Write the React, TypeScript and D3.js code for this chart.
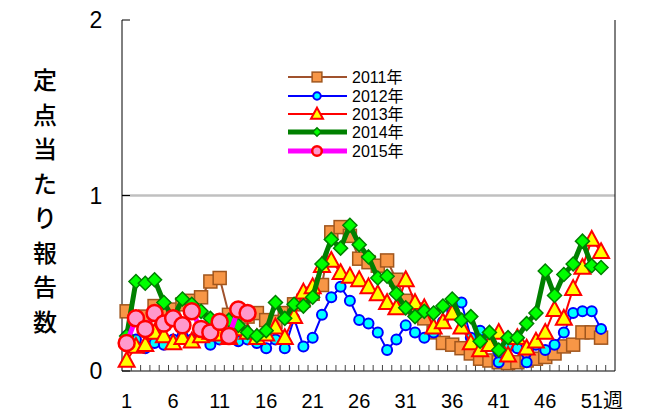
import React from "react";
import * as d3 from "d3";

const weeks: number[] = Array.from({ length: 52 }, (_, i) => i + 1);
const xTickLabels = [1, 6, 11, 16, 21, 26, 31, 36, 41, 46, 51];
const xUnit = "週";
const yTickValues = [0, 1, 2];
const yTitleChars = ["定", "点", "当", "た", "り", "報", "告", "数"];

const s2011 = [0.34, 0.30, 0.31, 0.37, 0.33, 0.35, 0.38, 0.40, 0.42, 0.51, 0.53, 0.32, 0.34, 0.31, 0.33, 0.29, 0.28, 0.33, 0.38, 0.40, 0.44, 0.49, 0.79, 0.82, 0.77, 0.64, 0.62, 0.60, 0.63, 0.52, 0.40, 0.35, 0.30, 0.22, 0.16, 0.15, 0.13, 0.10, 0.07, 0.06, 0.05, 0.045, 0.05, 0.06, 0.07, 0.08, 0.10, 0.14, 0.15, 0.22, 0.22, 0.19];
const s2012 = [0.20, 0.18, 0.13, 0.16, 0.15, 0.18, 0.20, 0.18, 0.20, 0.15, 0.18, 0.20, 0.17, 0.18, 0.16, 0.13, 0.18, 0.13, 0.30, 0.14, 0.19, 0.32, 0.42, 0.48, 0.40, 0.29, 0.27, 0.22, 0.12, 0.18, 0.26, 0.22, 0.19, 0.22, 0.28, 0.34, 0.39, 0.19, 0.23, 0.15, 0.05, 0.14, 0.13, 0.05, 0.15, 0.12, 0.15, 0.22, 0.33, 0.34, 0.34, 0.24];
const s2013 = [0.06, 0.14, 0.15, 0.22, 0.20, 0.16, 0.19, 0.17, 0.20, 0.22, 0.21, 0.19, 0.24, 0.22, 0.19, 0.21, 0.25, 0.19, 0.31, 0.45, 0.48, 0.60, 0.63, 0.56, 0.54, 0.52, 0.48, 0.44, 0.39, 0.36, 0.52, 0.39, 0.36, 0.25, 0.28, 0.33, 0.25, 0.16, 0.12, 0.15, 0.22, 0.09, 0.19, 0.13, 0.17, 0.22, 0.35, 0.30, 0.47, 0.59, 0.75, 0.68];
const s2014 = [0.20, 0.51, 0.50, 0.52, 0.39, 0.30, 0.41, 0.38, 0.34, 0.30, 0.28, 0.29, 0.26, 0.22, 0.20, 0.23, 0.39, 0.30, 0.38, 0.37, 0.42, 0.61, 0.75, 0.70, 0.83, 0.72, 0.65, 0.53, 0.54, 0.44, 0.36, 0.31, 0.34, 0.33, 0.37, 0.41, 0.29, 0.31, 0.17, 0.22, 0.12, 0.19, 0.19, 0.27, 0.33, 0.57, 0.43, 0.55, 0.61, 0.74, 0.60, 0.59];
const s2015 = [0.16, 0.30, 0.24, 0.33, 0.27, 0.30, 0.26, 0.34, 0.24, 0.22, 0.28, 0.20, 0.35, 0.33];

type Marker = "square" | "circle" | "triangle" | "diamond" | "bigcircle";
interface Series {
  name: string;
  values: number[];
  line: string;
  lineWidth: number;
  marker: Marker;
  fill: string;
  stroke: string;
}

const seriesList: Series[] = [
  { name: "2011年", values: s2011, line: "#a0522d", lineWidth: 2, marker: "square", fill: "#f79646", stroke: "#a0561e" },
  { name: "2012年", values: s2012, line: "#0000ff", lineWidth: 2, marker: "circle", fill: "#00ffff", stroke: "#0000ff" },
  { name: "2013年", values: s2013, line: "#ff0000", lineWidth: 2, marker: "triangle", fill: "#ffff00", stroke: "#ff0000" },
  { name: "2014年", values: s2014, line: "#008000", lineWidth: 5, marker: "diamond", fill: "#00ff00", stroke: "#008000" },
  { name: "2015年", values: s2015, line: "#ff00ff", lineWidth: 5, marker: "bigcircle", fill: "#ff99cc", stroke: "#ff0000" },
];

const W = 648;
const H = 412;
const left = 122;
const right = 615;
const top = 20;
const bottom = 371;

const x = d3.scaleLinear().domain([0.5, 53.5]).range([left, right]);
const y = d3.scaleLinear().domain([0, 2]).range([bottom, top]);

function MarkerShape({ m, cx, cy, fill, stroke, scale = 1 }: { m: Marker; cx: number; cy: number; fill: string; stroke: string; scale?: number }) {
  if (m === "square") {
    const s = 13 * scale;
    return <rect x={cx - s / 2} y={cy - s / 2} width={s} height={s} fill={fill} stroke={stroke} strokeWidth={1.5} />;
  }
  if (m === "circle") {
    return <circle cx={cx} cy={cy} r={5 * scale} fill={fill} stroke={stroke} strokeWidth={2} />;
  }
  if (m === "bigcircle") {
    return <circle cx={cx} cy={cy} r={8 * scale} fill={fill} stroke={stroke} strokeWidth={2.5} />;
  }
  if (m === "triangle") {
    const s = 8 * scale;
    const p = `M${cx},${cy - s * 1.05} L${cx + s},${cy + s * 0.8} L${cx - s},${cy + s * 0.8} Z`;
    return <path d={p} fill={fill} stroke={stroke} strokeWidth={2} strokeLinejoin="miter" />;
  }
  const s = 7 * scale;
  const p = `M${cx},${cy - s} L${cx + s},${cy} L${cx},${cy + s} L${cx - s},${cy} Z`;
  return <path d={p} fill={fill} stroke={stroke} strokeWidth={1.5} />;
}

export default function App() {
  const line = d3
    .line<number>()
    .x((_, i) => x(weeks[i]))
    .y((v) => y(v));

  const fontLatin = "'Liberation Sans', Arial, sans-serif";
  const fontCJK = "'Liberation Sans', 'Noto Sans CJK JP', sans-serif";

  const legendY = [77, 96, 114, 132, 151];
  const lastLabel = xTickLabels[xTickLabels.length - 1];

  return (
    <svg width={W} height={H} style={{ position: "absolute", left: 0, top: 0, background: "#fff" }}>
      {/* gridline at 1 */}
      <line x1={left} x2={right} y1={y(1)} y2={y(1)} stroke="#c0c0c0" strokeWidth={2.5} />
      {/* axes */}
      <line x1={left} x2={left} y1={top} y2={bottom} stroke="#000" strokeWidth={1} />
      <line x1={right} x2={right} y1={top} y2={bottom} stroke="#000" strokeWidth={1} />
      <line x1={left} x2={right} y1={bottom} y2={bottom} stroke="#000" strokeWidth={1.2} />
      {yTickValues.map((v) => (
        <line key={v} x1={left} x2={left + 8} y1={y(v)} y2={y(v)} stroke="#000" strokeWidth={1} />
      ))}
      {d3.range(1, 53).map((k) => (
        <line key={k} x1={x(k + 0.5)} x2={x(k + 0.5)} y1={bottom} y2={bottom - 6} stroke="#444" strokeWidth={1} />
      ))}
      {/* y labels */}
      {yTickValues.map((v) => (
        <text key={v} x={96} y={y(v) + 8} fontSize={23} fontFamily={fontLatin} textAnchor="middle" fill="#000">
          {v}
        </text>
      ))}
      {yTitleChars.map((c, i) => (
        <text key={i} x={45} y={89 + i * 34.5} fontSize={24} fontFamily="'Noto Sans CJK JP', sans-serif" fontWeight={500} textAnchor="middle" fill="#000">
          {c}
        </text>
      ))}
      {/* x labels */}
      {xTickLabels.map((w) =>
        w === lastLabel ? (
          <text key={w} x={x(w) - 11} y={408} fontSize={20} fontFamily={fontCJK} fill="#000">
            {w}
            {xUnit}
          </text>
        ) : (
          <text key={w} x={x(w)} y={408} fontSize={20} fontFamily={fontLatin} textAnchor="middle" fill="#000">
            {w}
          </text>
        )
      )}
      {/* series */}
      {seriesList.map((s) => (
        <g key={s.name}>
          <path d={line(s.values) || ""} fill="none" stroke={s.line} strokeWidth={s.lineWidth} strokeLinejoin="round" />
          {s.values.map((v, i) => (
            <MarkerShape key={i} m={s.marker} cx={x(weeks[i])} cy={y(v)} fill={s.fill} stroke={s.stroke} />
          ))}
        </g>
      ))}
      {/* legend */}
      {seriesList.map((s, i) => (
        <g key={s.name}>
          <line x1={288} x2={347} y1={legendY[i]} y2={legendY[i]} stroke={s.line} strokeWidth={s.lineWidth === 5 ? 5 : 2} />
          <MarkerShape m={s.marker} cx={317} cy={legendY[i]} fill={s.fill} stroke={s.stroke} scale={s.marker === "bigcircle" ? 0.6 : s.marker === "diamond" ? 0.6 : 0.75} />
          <text x={352} y={legendY[i] + 6} fontSize={16} fontFamily={fontCJK} fill="#000">
            {s.name}
          </text>
        </g>
      ))}
    </svg>
  );
}
